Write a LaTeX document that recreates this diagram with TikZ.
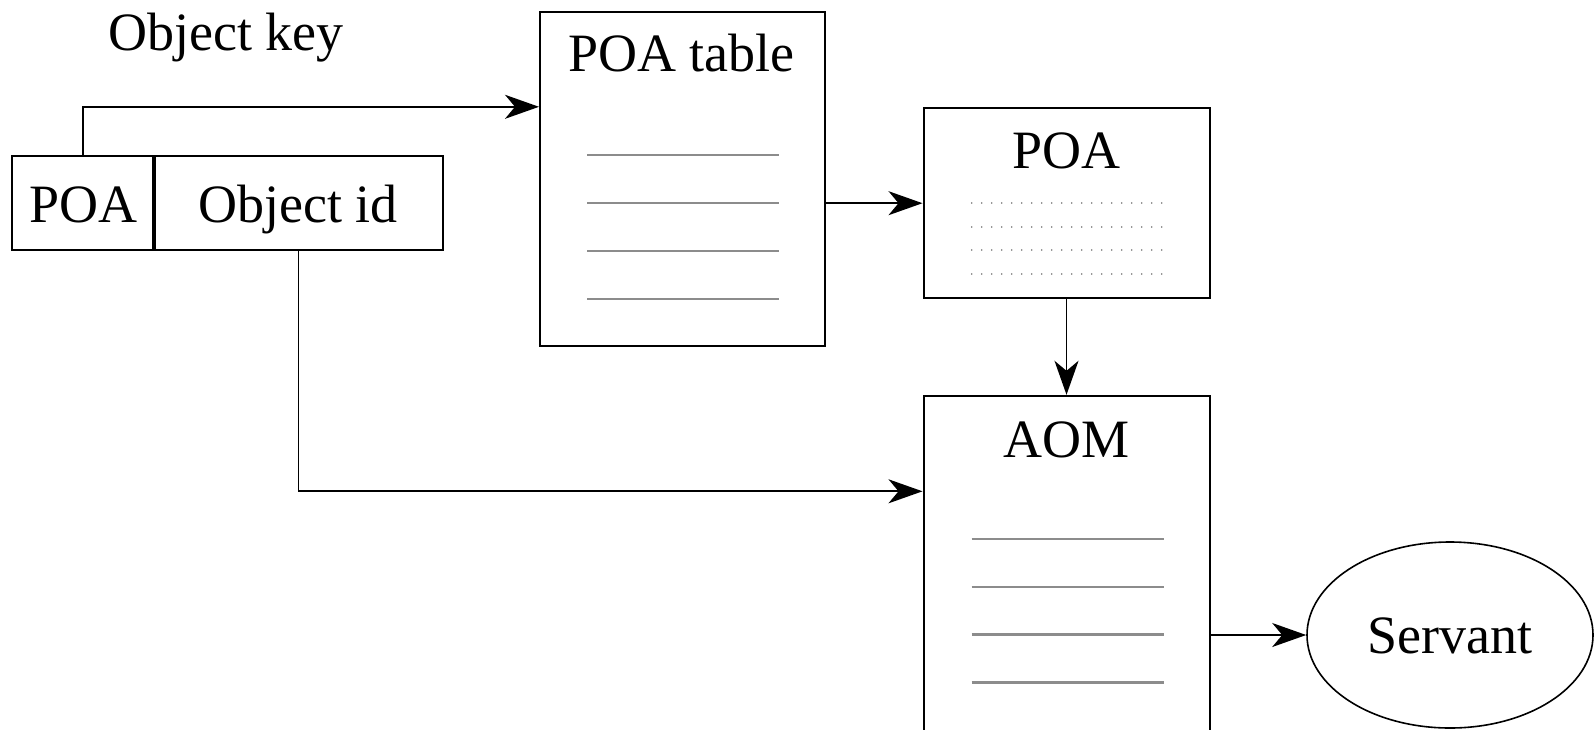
\documentclass[tikz,border=0pt]{standalone}
\usepackage{fontspec}
\setmainfont{Liberation Serif}
\usetikzlibrary{arrows.meta,shapes.geometric}
\begin{document}
\begin{tikzpicture}[x=0.5pt,y=-0.5pt,
  box/.style={draw,line width=1pt,rectangle,inner sep=0pt},
  arr/.style={-{Stealth[length=17pt,width=12pt,inset=5pt]},line width=0.9pt},
  title/.style={anchor=base,font=\fontsize{27}{32}\selectfont,inner sep=0pt},
  row/.style={draw=black!45,line width=1.3pt},
  dotrow/.style={draw=black!50,line width=0.9pt,dash pattern=on 0.01pt off 4.99pt,line cap=round},
]
\useasboundingbox (0,0) rectangle (1595,729);
\clip (0,0) rectangle (1595,729);

% object key: POA part and object id part
\node[box,minimum width=71.2pt,minimum height=47pt] (kpoa) at (83.3,203) {};
\node[box,minimum width=144pt,minimum height=47pt] (kid) at (298.5,203) {};
\draw[line width=1.6pt] (kid.north west) -- (kid.south west);
\node[title] (kpoat) at (83.3,222.7) {POA};
\node[title] (kidt) at (298,222.7) {Object id};
\node[title] (keyt) at (226,50.9) {Object key};

% POA table
\node[box,minimum width=142.5pt,minimum height=166.9pt] (ptab) at (682.5,179) {};
\node[title] (ptabt) at (681.5,71.7) {POA table};
\foreach \yy in {155,203,251,299}
  \draw[row] (587,\yy) -- (779,\yy);

% POA
\node[box,minimum width=143pt,minimum height=95pt] (poa) at (1066.5,203.2) {};
\node[title] (poat) at (1066.5,168.3) {POA};
\foreach \yy in {203.3,226.7,250,274.3}
  \draw[dotrow] (971.7,\yy) -- (1165,\yy);

% active object map
\node[box,minimum width=143pt,minimum height=202pt] (aom) at (1066.5,597.8) {};
\node[title] (aomt) at (1066.5,457.7) {AOM};
\foreach \yy in {539,587,634.7,682.5}
  \draw[row] (971.5,\yy) -- (1163.5,\yy);

% servant
\node[ellipse,draw,line width=0.8pt,minimum width=143pt,minimum height=93pt,inner sep=0pt] (serv) at (1450,635) {};
\node[title] (servt) at (1450,653.3) {Servant};

% connectors
\draw[arr] (kpoa.north) |- ([yshift=36.1pt]ptab.west);
\draw[arr] (ptab.east |- poa.west) -- (poa.west);
\draw[arr] (poa.south) -- (aom.north);
\draw[arr] (kid.south) |- ([yshift=53.25pt]aom.west);
\draw[arr] (aom.east |- serv.west) -- (serv.west);
\end{tikzpicture}
\end{document}
